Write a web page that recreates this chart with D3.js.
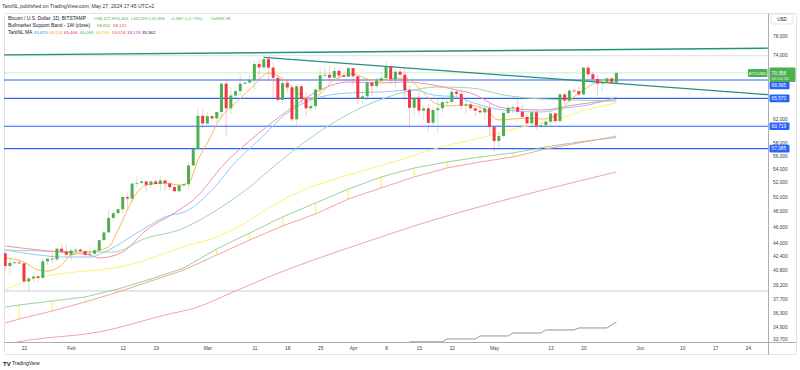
<!DOCTYPE html>
<html>
<head>
<meta charset="utf-8">
<script src="https://cdn.jsdelivr.net/npm/d3@7"></script>
<style>
body { margin: 0; background: #fff; }
svg { display: block; font-family: "Liberation Sans", Arial, sans-serif; }
</style>
</head>
<body>
<div id="chart"></div>
<script>
//// BTCUSD daily chart, TradingView style ////

// Daily candles: date, open, high, low, close
const candles = [
	["2024-01-18",42750,42930,40700,41270],["2024-01-19",41270,42200,40280,41630],
	["2024-01-20",41630,41860,41450,41680],["2024-01-21",41680,41870,41520,41580],
	["2024-01-22",41580,41680,39440,39550],["2024-01-23",39550,40100,38550,39880],
	["2024-01-24",39880,40560,39480,40100],["2024-01-25",40100,40280,39520,39940],
	["2024-01-26",39940,42200,39830,41810],["2024-01-27",41810,42200,41400,42120],
	["2024-01-28",42120,42840,41640,42030],["2024-01-29",42030,43310,41800,43300],
	["2024-01-30",43300,43860,42700,42940],["2024-01-31",42940,43740,42300,42580],
	["2024-02-01",42580,43260,41880,43080],["2024-02-02",43080,43480,42580,43190],
	["2024-02-03",43190,43380,42900,43000],["2024-02-04",43000,43100,42280,42580],
	["2024-02-05",42580,43540,42270,42700],["2024-02-06",42700,43380,42580,43090],
	["2024-02-07",43090,44360,42800,44330],["2024-02-08",44330,45580,44330,45290],
	["2024-02-09",45290,48200,45250,47130],["2024-02-10",47130,48150,46900,47760],
	["2024-02-11",47760,48560,47560,48280],["2024-02-12",48280,50320,47700,49940],
	["2024-02-13",49940,50370,48400,49730],["2024-02-14",49730,52000,49270,51830],
	["2024-02-15",51830,52830,51350,51920],["2024-02-16",51920,52580,51620,52140],
	["2024-02-17",52140,52180,50650,51660],["2024-02-18",51660,52380,51200,52130],
	["2024-02-19",52130,52480,51700,51780],["2024-02-20",51780,52950,50760,52270],
	["2024-02-21",52270,52380,50800,51850],["2024-02-22",51850,52000,50950,51320],
	["2024-02-23",51320,51540,50540,50740],["2024-02-24",50740,51700,50600,51570],
	["2024-02-25",51570,51960,51280,51730],["2024-02-26",51730,54900,50900,54490],
	["2024-02-27",54490,57550,54450,57050],["2024-02-28",57050,63900,56700,62500],
	["2024-02-29",62500,63700,60400,61190],["2024-03-01",61190,63200,60800,62440],
	["2024-03-02",62440,62440,61600,62050],["2024-03-03",62050,63200,61300,63150],
	["2024-03-04",63150,68500,62350,68300],["2024-03-05",68300,69170,59000,63800],
	["2024-03-06",63800,67600,62800,66100],["2024-03-07",66100,67000,65600,66900],
	["2024-03-08",66900,69950,66100,68300],["2024-03-09",68300,68600,68100,68500],
	["2024-03-10",68500,70000,68200,69000],["2024-03-11",69000,72800,67200,72100],
	["2024-03-12",72100,72950,68800,71450],["2024-03-13",71450,73650,71350,73080],
	["2024-03-14",73080,73780,68700,71390],["2024-03-15",71390,72400,65600,69400],
	["2024-03-16",69400,70000,64800,65300],["2024-03-17",65300,68900,64600,68400],
	["2024-03-18",68400,68900,66600,67600],["2024-03-19",67600,68100,61600,61900],
	["2024-03-20",61900,68100,60800,67800],["2024-03-21",67800,68200,64600,65500],
	["2024-03-22",65500,66600,62300,63800],["2024-03-23",63800,65900,63300,64200],
	["2024-03-24",64200,67600,63800,67200],["2024-03-25",67200,71200,66600,69900],
	["2024-03-26",69900,71500,69500,69990],["2024-03-27",69990,71700,68400,69450],
	["2024-03-28",69450,71500,68900,70750],["2024-03-29",70750,70900,69100,69850],
	["2024-03-30",69850,70300,69600,69600],["2024-03-31",69600,71300,69600,71300],
	["2024-04-01",71300,71300,68100,69700],["2024-04-02",69700,69700,64500,65500],
	["2024-04-03",65500,66900,64500,65950],["2024-04-04",65950,69300,65100,68500],
	["2024-04-05",68500,68700,66000,67850],["2024-04-06",67850,69500,67500,68900],
	["2024-04-07",68900,70300,68800,69350],["2024-04-08",69350,72700,69050,71600],
	["2024-04-09",71600,71750,68200,69150],["2024-04-10",69150,71100,67500,70600],
	["2024-04-11",70600,71200,69600,70000],["2024-04-12",70000,71200,65100,67100],
	["2024-04-13",67100,67900,60700,63900],["2024-04-14",63900,65800,62300,65700],
	["2024-04-15",65700,66800,62400,63400],["2024-04-16",63400,64300,61800,63800],
	["2024-04-17",63800,64500,59800,61300],["2024-04-18",61300,64100,60800,63500],
	["2024-04-19",63500,65400,59600,63800],["2024-04-20",63800,65400,63200,64900],
	["2024-04-21",64900,65600,64200,64950],["2024-04-22",64950,67200,64500,66800],
	["2024-04-23",66800,67200,65800,66400],["2024-04-24",66400,67100,63600,64300],
	["2024-04-25",64300,65300,62800,64500],["2024-04-26",64500,64800,63300,63800],
	["2024-04-27",63800,63900,62400,63400],["2024-04-28",63400,64300,62800,63100],
	["2024-04-29",63100,64200,61800,63800],["2024-04-30",63800,64700,59200,60600],
	["2024-05-01",60600,60900,56600,58300],["2024-05-02",58300,59600,56900,59100],
	["2024-05-03",59100,63300,58800,63000],["2024-05-04",63000,64500,62600,63900],
	["2024-05-05",63900,64600,62900,64000],["2024-05-06",64000,65500,62700,63200],
	["2024-05-07",63200,64400,62100,62300],["2024-05-08",62300,62900,60900,61200],
	["2024-05-09",61200,63500,60700,63100],["2024-05-10",63100,63500,60200,60800],
	["2024-05-11",60800,61500,60500,60900],["2024-05-12",60900,61900,60700,61500],
	["2024-05-13",61500,63400,60800,62900],["2024-05-14",62900,63100,61200,61600],
	["2024-05-15",61600,66500,61300,66300],["2024-05-16",66300,66700,64600,65200],
	["2024-05-17",65200,67400,65100,67000],["2024-05-18",67000,67400,66700,66900],
	["2024-05-19",66900,67700,65900,66300],["2024-05-20",66300,71500,66100,71400],
	["2024-05-21",71400,71900,69200,70100],["2024-05-22",70100,70600,69000,69200],
	["2024-05-23",69200,70000,66200,68300],["2024-05-24",68300,69200,66700,68500],
	["2024-05-25",68500,69500,68400,69300],["2024-05-26",69300,69500,68200,68489],
	["2024-05-27",68471,70401,68225,70356]
];
const volume = "945.39";

// TaroNL MA lines
const maOrange = [["2024-01-18",42200],["2024-01-22",41730],["2024-01-25",40820],["2024-01-27",40700],
	["2024-01-30",41390],["2024-02-01",42550],["2024-02-05",42900],["2024-02-09",43500],["2024-02-11",45590],
	["2024-02-13",48180],["2024-02-15",50500],["2024-02-17",51620],["2024-02-21",51910],["2024-02-24",51620],
	["2024-02-26",51910],["2024-02-28",55300],["2024-03-01",58000],["2024-03-04",62300],["2024-03-07",64750],
	["2024-03-11",68050],["2024-03-14",70340],["2024-03-16",69760],["2024-03-18",68620],["2024-03-20",66750],
	["2024-03-23",65470],["2024-03-25",66380],["2024-03-28",69000],["2024-04-01",70150],["2024-04-04",69190],
	["2024-04-07",68800],["2024-04-09",69190],["2024-04-12",69380],["2024-04-15",67490],["2024-04-18",64930],
	["2024-04-21",64210],["2024-04-25",64390],["2024-04-29",63680],["2024-05-02",61780],["2024-05-05",61950],
	["2024-05-09",62120],["2024-05-11",61950],["2024-05-14",62460],["2024-05-17",65110],["2024-05-20",67120],
	["2024-05-23",68620],["2024-05-27",69124]];
const maBlue = [["2024-01-18",43140],["2024-01-27",42430],["2024-01-30",42310],["2024-02-05",42310],
	["2024-02-09",43140],["2024-02-15",45210],["2024-02-21",47260],["2024-02-26",48180],["2024-03-02",50920],
	["2024-03-07",55010],["2024-03-12",58460],["2024-03-18",62980],["2024-03-23",65290],["2024-03-31",66560],
	["2024-04-07",66750],["2024-04-14",67120],["2024-04-18",66200],["2024-04-23",65830],["2024-04-26",64930],
	["2024-05-03",63510],["2024-05-11",63160],["2024-05-16",63860],["2024-05-21",64390],["2024-05-27",65823]];
const maPink = [["2024-01-18",43620],["2024-01-27",43020],["2024-02-05",42550],["2024-02-07",42200],
	["2024-02-12",42900],["2024-02-17",45590],["2024-02-23",47780],["2024-02-27",49530],["2024-03-05",55010],
	["2024-03-12",59600],["2024-03-18",63330],["2024-03-25",67120],["2024-03-31",68620],["2024-04-07",68430],
	["2024-04-12",68620],["2024-04-18",68050],["2024-04-23",67120],["2024-04-26",66560],["2024-05-03",63860],
	["2024-05-11",63510],["2024-05-18",64390],["2024-05-27",65406]];
const maGreen = [["2024-01-18",43140],["2024-02-10",42900],["2024-02-17",44590],["2024-02-24",45590],
	["2024-03-03",48180],["2024-03-10",51340],["2024-03-16",54860],["2024-03-20",57180],["2024-03-27",60930],
	["2024-04-04",64390],["2024-04-12",66750],["2024-04-19",67670],["2024-04-26",67490],["2024-05-03",66200],
	["2024-05-11",65470],["2024-05-18",65290],["2024-05-27",65069]];
const maYellow = [["2024-01-18",38630],["2024-01-23",39710],["2024-01-31",40480],["2024-02-10",41050],
	["2024-02-17",41960],["2024-02-24",43380],["2024-03-03",44720],["2024-03-09",46480],["2024-03-14",48450],
	["2024-03-20",50500],["2024-03-31",53070],["2024-04-11",55320],["2024-04-19",57180],["2024-04-28",58780],
	["2024-05-09",60930],["2024-05-13",61440],["2024-05-19",63160],["2024-05-27",64764]];
const maRed = [["2024-01-18",33270],["2024-01-23",33640],["2024-02-07",34400],["2024-02-21",36050],
	["2024-02-28",36850],["2024-03-06",38310],["2024-03-14",40040],["2024-04-05",44350],["2024-04-16",46480],
	["2024-04-27",48450],["2024-05-09",50500],["2024-05-27",53518]];
const maGray = [["2024-04-13",33470],["2024-04-20",33470],["2024-04-21",33740],["2024-04-27",33740],
	["2024-04-28",34020],["2024-05-04",34020],["2024-05-05",34300],["2024-05-11",34300],["2024-05-12",34590],
	["2024-05-18",34590],["2024-05-19",34780],["2024-05-25",34780],["2024-05-27",35362]];
const maPurpleLast = 33174;

// Bullmarket Support Band (1W), weekly knots
const bandDates = ["2024-01-18","2024-01-21","2024-01-28","2024-02-04","2024-02-11","2024-02-18","2024-02-25",
	"2024-03-03","2024-03-10","2024-03-17","2024-03-24","2024-03-31","2024-04-07","2024-04-14","2024-04-21",
	"2024-04-28","2024-05-05","2024-05-12","2024-05-19","2024-05-26","2024-05-27"];
const bandSma = [36850,37060,37470,37890,38730,39820,41050,43260,45210,47260,49120,51060,52780,54110,55010,
	55780,56400,57340,58140,58780,58832];
const bandEma = [35260,35650,36450,37370,38410,39600,40820,42550,44350,46100,47650,49670,51200,52780,54110,
	55010,55780,57020,57980,58940,59122];

// Drawn levels and trend lines
const blueLevels = [68995, 65570, 60719, 57085];
const athLevel = 73800;
const janLowLevel = 38520;
const topTrend = [["2024-01-17",73930],["2024-06-29",75330]];
const downTrend = [["2024-03-13",73450],["2024-06-29",66200]];

// Axes
const priceTicks = [78000,74000,62000,58000,56000,54000,52000,50000,48000,46000,44000,42400,40800,39200,37700,36300,34900,33700];
const dateTicks = ["2024-01-22","2024-02-01","2024-02-12","2024-02-19","2024-03-01","2024-03-11","2024-03-18",
	"2024-03-25","2024-04-01","2024-04-08","2024-04-15","2024-04-22","2024-05-01","2024-05-13","2024-05-20",
	"2024-06-01","2024-06-10","2024-06-17","2024-06-24"];

const parse = d3.utcParse("%Y-%m-%d");
const fmt = d3.format(",");
const green = "#4caf50", red = "#f23645", blue = "#2962ff", ink = "#131722";

const plot = {left: 4, right: 768, top: 13, bottom: 342};

const x = d3.scaleUtc()
	.domain([parse("2024-01-22"), parse("2024-06-24")])
	.range([24, 748]);
const y = d3.scaleLog()
	.domain([33458, 83020])
	.range([plot.bottom, plot.top]);

const bars = candles.map(d => ({date: parse(d[0]), o: d[1], h: d[2], l: d[3], c: d[4]}));
const last = bars[bars.length - 1];
const prev = bars[bars.length - 2];

const svg = d3.select("#chart").append("svg")
	.attr("width", 800)
	.attr("height", 370);

svg.append("defs").append("clipPath").attr("id", "clip")
	.append("rect")
	.attr("x", plot.left).attr("y", plot.top)
	.attr("width", plot.right - plot.left).attr("height", plot.bottom - plot.top);

// Frame and pane separators
svg.append("rect")
	.attr("x", 4.5).attr("y", 13.5).attr("width", 792).attr("height", 341)
	.attr("rx", 2).attr("fill", "none").attr("stroke", "#e0e3eb");
svg.append("line").attr("x1", 768.5).attr("x2", 768.5).attr("y1", 13.5).attr("y2", 354.5)
	.attr("stroke", "#9598a1").attr("stroke-width", 0.8);
svg.append("line").attr("x1", 4.5).attr("x2", 796.5).attr("y1", 342.5).attr("y2", 342.5)
	.attr("stroke", "#9598a1").attr("stroke-width", 0.8);

const g = svg.append("g").attr("clip-path", "url(#clip)");

// Horizontal levels
function hline(value, color, width, opacity) {
	g.append("line")
		.attr("x1", plot.left).attr("x2", plot.right)
		.attr("y1", y(value)).attr("y2", y(value))
		.attr("stroke", color).attr("stroke-width", width).attr("opacity", opacity);
}
hline(athLevel, "#d1d4dc", 1.4, 0.6);
hline(last.c, green, 1.4, 0.22);
hline(janLowLevel, "#c4c6cc", 0.9, 1);
blueLevels.forEach(v => hline(v, blue, 1.2, 1));

// Moving average lines
const maLine = d3.line()
	.x(d => x(parse(d[0])))
	.y(d => y(d[1]));

function drawLine(data, color, width, opacity, curve) {
	g.append("path")
		.datum(data)
		.attr("fill", "none")
		.attr("stroke", color)
		.attr("stroke-width", width)
		.attr("opacity", opacity)
		.attr("d", maLine.curve(curve || d3.curveMonotoneX));
}

// Support band: weekly ticks between the two lines
const band = bandDates.map((d, i) => ({date: parse(d), sma: bandSma[i], ema: bandEma[i]}));
g.selectAll(".band-tick")
	.data(band.slice(1, -2))
	.join("line")
	.attr("class", "band-tick")
	.attr("x1", d => x(d.date)).attr("x2", d => x(d.date))
	.attr("y1", d => y(d.sma)).attr("y2", d => y(d.ema))
	.attr("stroke", "#fff176").attr("stroke-width", 1.3);

drawLine(bandDates.map((d, i) => [d, bandSma[i]]), "#81c784", 1, 0.8, d3.curveLinear);
drawLine(bandDates.map((d, i) => [d, bandEma[i]]), "#ef9a9a", 1, 0.9, d3.curveLinear);
drawLine(maRed, "#ef9a9a", 1, 0.9);
drawLine(maGray, "#8a8a8a", 1, 0.9, d3.curveLinear);
drawLine(maYellow, "#fff176", 1, 1);
drawLine(maGreen, "#a5d6a7", 1, 1);
drawLine(maBlue, "#90caf9", 1, 1);
drawLine(maPink, "#f48fb1", 1, 1);
drawLine(maOrange, "#ffb74d", 1, 1);

// Trend lines
[topTrend, downTrend].forEach(t => {
	g.append("line")
		.attr("x1", x(parse(t[0][0]))).attr("y1", y(t[0][1]))
		.attr("x2", x(parse(t[1][0]))).attr("y2", y(t[1][1]))
		.attr("stroke", "#22917f").attr("stroke-width", 1.3);
});

// Candles
const candle = g.selectAll(".candle")
	.data(bars)
	.join("g")
	.attr("class", "candle");

candle.append("line")
	.attr("x1", d => x(d.date)).attr("x2", d => x(d.date))
	.attr("y1", d => y(d.h)).attr("y2", d => y(d.l))
	.attr("stroke", d => d.c >= d.o ? green : red)
	.attr("stroke-width", 0.8)
	.attr("opacity", 0.35);

candle.append("rect")
	.attr("x", d => x(d.date) - 1.5)
	.attr("width", 3)
	.attr("y", d => y(Math.max(d.o, d.c)))
	.attr("height", d => Math.max(0.8, Math.abs(y(d.o) - y(d.c))))
	.attr("fill", d => d.c >= d.o ? green : red);

// Price axis
svg.append("g")
	.attr("transform", "translate(768,0)")
	.call(d3.axisRight(y).tickValues(priceTicks).tickFormat(fmt).tickSize(0).tickPadding(5))
	.call(a => a.select(".domain").remove())
	.call(a => a.selectAll("text").attr("font-size", 4.8).attr("fill", "#3a3e48").attr("font-family", null));

// Time axis
svg.append("g")
	.attr("transform", "translate(0,342.5)")
	.call(d3.axisBottom(x)
		.tickValues(dateTicks.map(parse))
		.tickFormat(d => d.getUTCDate() === 1 ? d3.utcFormat("%b")(d) : d3.utcFormat("%-d")(d))
		.tickSize(0).tickPadding(4.5))
	.call(a => a.select(".domain").remove())
	.call(a => a.selectAll("text").attr("font-size", 4.8).attr("fill", "#3a3e48").attr("font-family", null));

// USD box
svg.append("rect").attr("x", 771).attr("y", 14).attr("width", 22).attr("height", 10).attr("rx", 2)
	.attr("fill", "#fff").attr("stroke", "#e0e3eb");
svg.append("text").attr("x", 782).attr("y", 20.8).attr("text-anchor", "middle")
	.attr("font-size", 4.6).attr("fill", ink).text("USD");

// Level tags on the price axis
const tagNudge = [5.5, 0, 0, 0];
blueLevels.forEach((v, i) => {
	const ty = y(v) + tagNudge[i];
	svg.append("rect").attr("x", 769.5).attr("y", ty - 3.8).attr("width", 20).attr("height", 7.6)
		.attr("rx", 1).attr("fill", blue);
	svg.append("text").attr("x", 771.5).attr("y", ty + 1.7)
		.attr("font-size", 4.8).attr("fill", "#fff").text(fmt(v));
});

// Last price tag
const py = y(last.c);
svg.append("rect").attr("x", 769.5).attr("y", py - 5.5).attr("width", 26).attr("height", 14.5)
	.attr("rx", 1).attr("fill", green);
svg.append("text").attr("x", 771.5).attr("y", py + 1.6)
	.attr("font-size", 4.8).attr("fill", "#fff").text(fmt(last.c));
svg.append("text").attr("x", 771.5).attr("y", py + 7.3)
	.attr("font-size", 4.4).attr("fill", "#fff").attr("opacity", 0.9).text("05:14:10");
svg.append("rect").attr("x", 748).attr("y", py - 4).attr("width", 19.5).attr("height", 8)
	.attr("rx", 1).attr("fill", green);
svg.append("text").attr("x", 757.7).attr("y", py + 1.6).attr("text-anchor", "middle")
	.attr("font-size", 4.3).attr("fill", "#fff").text("BTCUSD");

// Header and legend
svg.append("text").attr("x", 2).attr("y", 8)
	.attr("font-size", 5.1).attr("fill", "#333")
	.text("TaroNL published on TradingView.com, May 27, 2024 17:45 UTC+2");

function legendRow(yy, items) {
	const t = svg.append("text").attr("y", yy);
	items.forEach((it, i) => t.append("tspan")
		.attr("x", it[1]).attr("fill", it[2])
		.attr("font-size", i === 0 ? 4.9 : 4.4)
		.text(it[0]));
}
const chg = last.c - prev.c;
legendRow(19.5, [
	["Bitcoin / U.S. Dollar, 1D, BITSTAMP", 8, ink],
	["O" + fmt(last.o), 94, green],
	["H" + fmt(last.h), 112, green],
	["L" + fmt(last.l), 131, green],
	["C" + fmt(last.c), 148, green],
	["+" + fmt(chg) + " (+" + d3.format(".2f")(chg / prev.c * 100) + "%)", 170, green],
	["Vol" + volume, 211, green]
]);
legendRow(26.6, [
	["Bullmarket Support Band - 1W (close)", 8, ink],
	[fmt(bandSma[bandSma.length - 1]), 97, green],
	[fmt(bandEma[bandEma.length - 1]), 113, red]
]);
const lastOf = s => s[s.length - 1][1];
legendRow(34, [
	["TaroNL MA", 8, ink],
	[fmt(lastOf(maBlue)), 34, "#2196f3"],
	[fmt(lastOf(maOrange)), 49, "#ff9800"],
	[fmt(lastOf(maPink)), 64, "#e91e63"],
	[fmt(lastOf(maGreen)), 80, "#4caf50"],
	[fmt(lastOf(maYellow)), 96, "#f5c400"],
	[fmt(lastOf(maRed)), 112, "#f44336"],
	[fmt(maPurpleLast), 127, "#9c27b0"],
	[fmt(lastOf(maGray)), 142, ink]
]);

// TradingView mark
svg.append("text").attr("x", 3).attr("y", 365.5)
	.attr("font-size", 6).attr("font-weight", "bold").attr("fill", ink).text("TV");
svg.append("text").attr("x", 12).attr("y", 365.3)
	.attr("font-size", 5).attr("fill", ink).text("TradingView");
</script>
</body>
</html>
